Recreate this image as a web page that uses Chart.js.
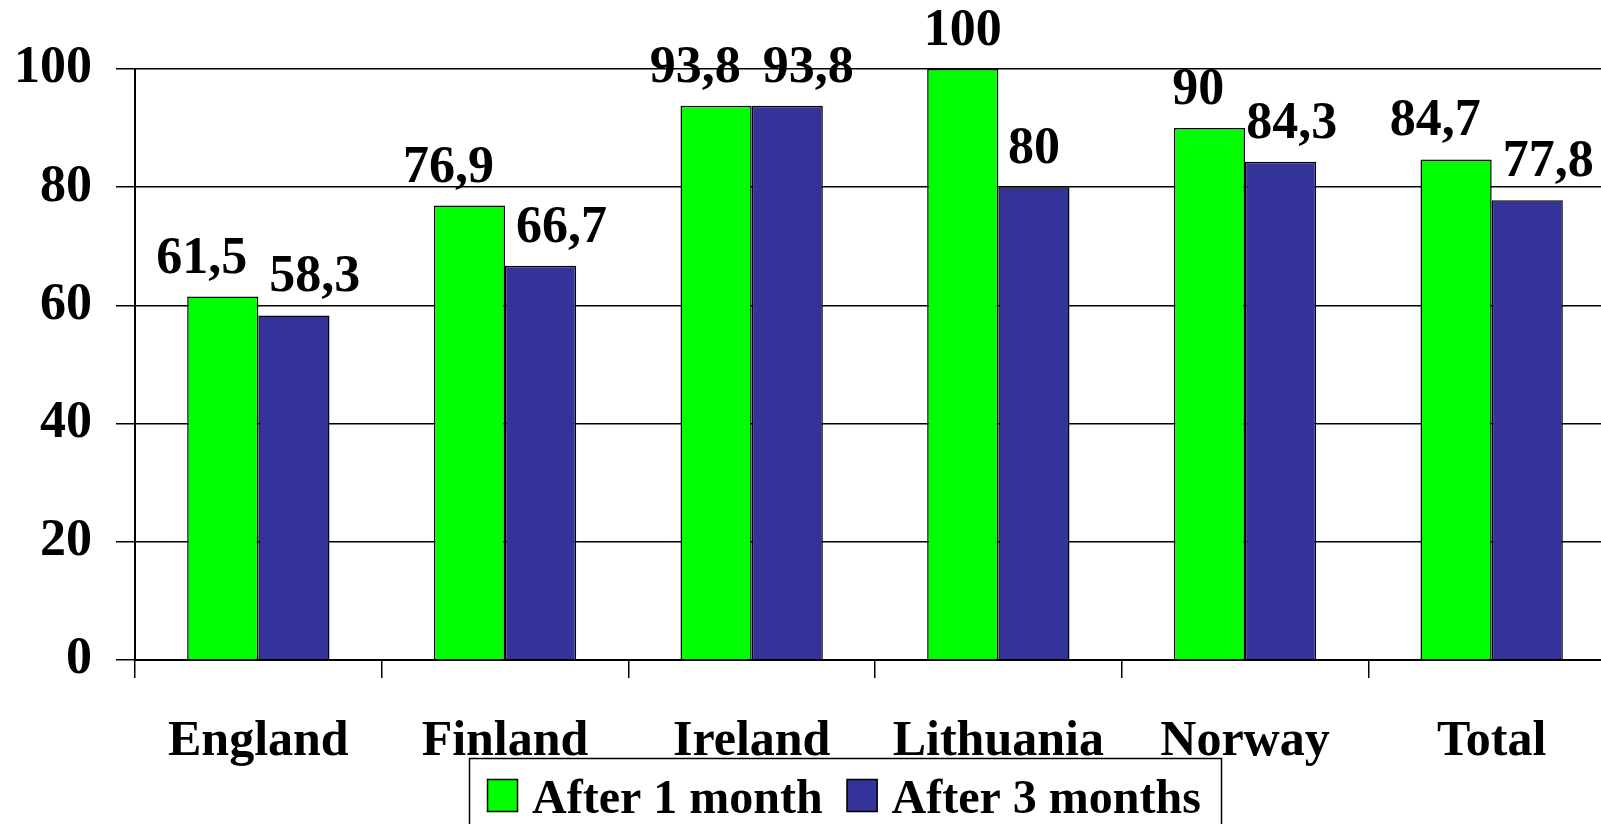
<!DOCTYPE html>
<html>
<head>
<meta charset="utf-8">
<script src="https://cdn.jsdelivr.net/npm/chart.js@4.4.0/dist/chart.umd.min.js"></script>
<style>
  html, body { margin: 0; padding: 0; background: #fff; overflow: hidden; }
  #wrap { width: 1620px; height: 824px; }
</style>
</head>
<body>
<div id="wrap"><canvas id="barChart" width="1620" height="824"></canvas></div>
<script>
// Data
const countries = ['England', 'Finland', 'Ireland', 'Lithuania', 'Norway', 'Total'];
const after1Month = [61.5, 76.9, 93.8, 100, 90, 84.7];
const after3Months = [58.3, 66.7, 93.8, 80, 84.3, 77.8];
const yTicks = [0, 20, 40, 60, 80, 100];

const FONT = '"Liberation Serif", "Times New Roman", serif';

function fmt(v) {
  return String(v).replace('.', ',');
}

// Value labels above bars, pushed apart when they collide
const valueLabels = {
  id: 'valueLabels',
  afterDatasetsDraw(chart) {
    const ctx = chart.ctx;
    const m0 = chart.getDatasetMeta(0);
    const m1 = chart.getDatasetMeta(1);
    ctx.save();
    ctx.font = 'bold 52px ' + FONT;
    ctx.fillStyle = '#000';
    ctx.textAlign = 'center';
    ctx.textBaseline = 'alphabetic';
    const lift = 24, near = 70, gap = 22;
    for (let i = 0; i < countries.length; i++) {
      const b0 = m0.data[i], b1 = m1.data[i];
      const t0 = fmt(chart.data.datasets[0].data[i]);
      const t1 = fmt(chart.data.datasets[1].data[i]);
      const w0 = ctx.measureText(t0).width, w1 = ctx.measureText(t1).width;
      let x0 = b0.x, x1 = b1.x;
      const y0 = b0.y - lift, y1 = b1.y - lift;
      if (Math.abs(y0 - y1) < near) {
        const over = (x0 + w0 / 2 + gap) - (x1 - w1 / 2);
        if (over > 0) { x0 -= over / 2; x1 += over / 2; }
      }
      ctx.fillText(t0, x0, y0);
      ctx.fillText(t1, x1, y1);
    }
    ctx.restore();
  }
};

// Boxed legend below the axis labels
const boxLegend = {
  id: 'boxLegend',
  afterDraw(chart) {
    const ctx = chart.ctx;
    ctx.save();
    ctx.lineWidth = 1.5;
    ctx.strokeStyle = '#000';
    ctx.strokeRect(469.5, 758.5, 752, 80);
    ctx.font = 'bold 48px ' + FONT;
    ctx.textBaseline = 'alphabetic';
    ctx.textAlign = 'left';
    let x = 487;
    chart.data.datasets.forEach((ds) => {
      ctx.fillStyle = ds.backgroundColor;
      ctx.fillRect(x, 779, 31, 33);
      ctx.strokeRect(x + 0.5, 779.5, 30, 32);
      ctx.fillStyle = '#000';
      ctx.fillText(ds.label, x + 45, 813);
      x += 45 + ctx.measureText(ds.label).width + 24;
    });
    ctx.restore();
  }
};

new Chart(document.getElementById('barChart'), {
  type: 'bar',
  data: {
    labels: countries,
    datasets: [
      {
        label: 'After 1 month',
        data: after1Month,
        backgroundColor: '#00ff00',
        borderColor: '#000',
        borderWidth: 1.5,
        categoryPercentage: 0.577,
        barPercentage: 1.0
      },
      {
        label: 'After 3 months',
        data: after3Months,
        backgroundColor: '#333399',
        borderColor: '#000',
        borderWidth: 1.5,
        categoryPercentage: 0.577,
        barPercentage: 1.0
      }
    ]
  },
  options: {
    responsive: false,
    animation: false,
    layout: { padding: { top: 69, right: 5, bottom: 0, left: 0 } },
    plugins: {
      legend: { display: false },
      tooltip: { enabled: false }
    },
    scales: {
      x: {
        grid: {
          offset: true,
          drawOnChartArea: false,
          drawTicks: true,
          tickLength: 18,
          color: '#000',
          lineWidth: 1.5
        },
        border: { display: true, color: '#000', width: 2 },
        ticks: {
          color: '#000',
          padding: 34,
          font: { family: FONT, size: 50, weight: 'bold' }
        },
        afterFit(scale) { scale.height = 164; }
      },
      y: {
        min: 0,
        max: 100,
        afterBuildTicks(scale) { scale.ticks = yTicks.map(v => ({ value: v })); },
        grid: {
          color: '#000',
          lineWidth: 1.5,
          drawTicks: true,
          tickLength: 19
        },
        border: { display: true, color: '#000', width: 2 },
        ticks: {
          color: '#000',
          padding: 24,
          font: { family: FONT, size: 52, weight: 'bold' }
        },
        afterFit(scale) { scale.width = 135; }
      }
    }
  },
  plugins: [valueLabels, boxLegend]
});
</script>
</body>
</html>
